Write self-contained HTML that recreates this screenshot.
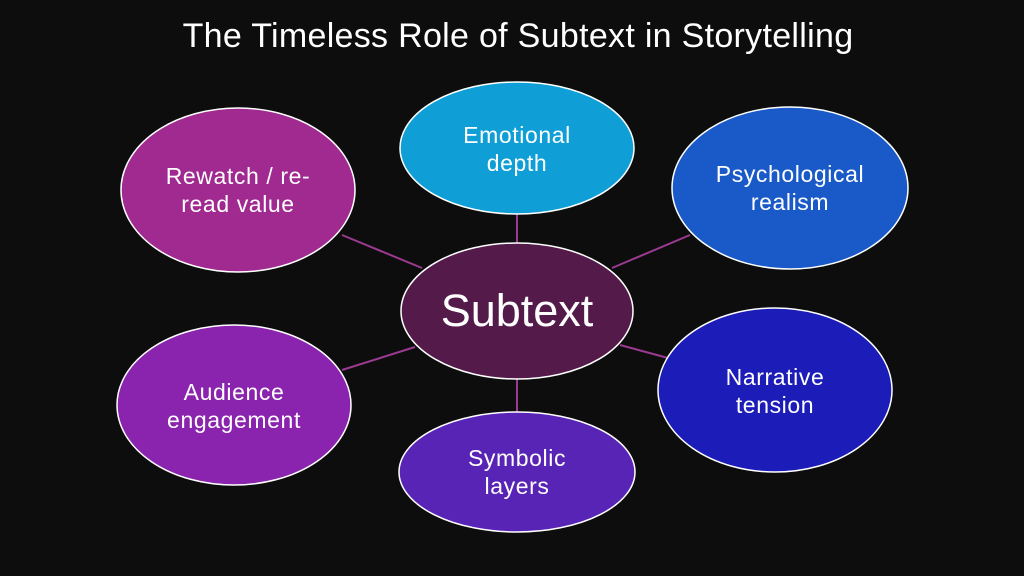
<!DOCTYPE html>
<html><head><style>
html,body{margin:0;padding:0;background:#0d0d0d;}
svg{display:block}
text{font-family:"Liberation Sans",sans-serif;fill:#fff;text-anchor:middle}
</style></head><body>
<svg width="1024" height="576" viewBox="0 0 1024 576">
<rect width="1024" height="576" fill="#0d0d0d"/>
<text x="518" y="47" font-size="34" letter-spacing="0.3">The Timeless Role of Subtext in Storytelling</text>
<g stroke="#9a3a90" stroke-width="2">
<line x1="517" y1="214" x2="517" y2="243"/>
<line x1="517" y1="379" x2="517" y2="413"/>
<line x1="342" y1="235" x2="422" y2="268"/>
<line x1="612" y1="268" x2="690" y2="235"/>
<line x1="620" y1="345" x2="668" y2="358"/>
<line x1="342" y1="370" x2="415" y2="347"/>
</g>
<g stroke="#fff" stroke-width="1.5">
<ellipse cx="517" cy="148" rx="117" ry="66" fill="#0f9fd6"/>
<ellipse cx="790" cy="188" rx="118" ry="81" fill="#1a5ac8"/>
<ellipse cx="775" cy="390" rx="117" ry="82" fill="#1c1cb8"/>
<ellipse cx="517" cy="472" rx="118" ry="60" fill="#5824b6"/>
<ellipse cx="234" cy="405" rx="117" ry="80" fill="#8a24ae"/>
<ellipse cx="238" cy="190" rx="117" ry="82" fill="#a02a90"/>
<ellipse cx="517" cy="311" rx="116" ry="68" fill="#531a4a"/>
</g>
<g font-size="23" letter-spacing="0.6">
<text x="517" y="143">Emotional</text><text x="517" y="171">depth</text>
<text x="790" y="182">Psychological</text><text x="790" y="210">realism</text>
<text x="775" y="385">Narrative</text><text x="775" y="413">tension</text>
<text x="517" y="466">Symbolic</text><text x="517" y="494">layers</text>
<text x="234" y="400">Audience</text><text x="234" y="428">engagement</text>
<text x="238" y="184">Rewatch / re-</text><text x="238" y="212">read value</text>
</g>
<text x="517" y="326" font-size="45">Subtext</text>
</svg>
</body></html>
